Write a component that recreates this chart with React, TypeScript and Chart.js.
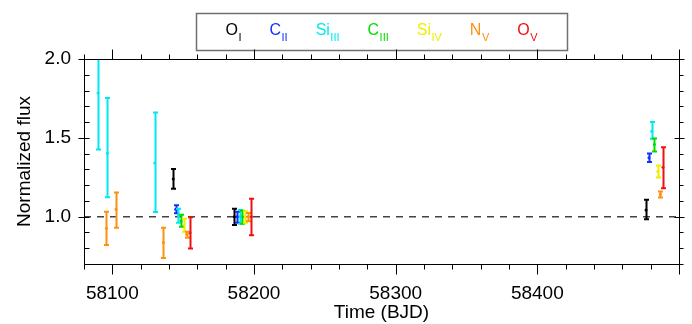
import { useEffect, useRef } from 'react';
import { Chart, registerables } from 'chart.js';

Chart.register(...registerables);

// Ion labels (element + ionisation stage) and colours
const ionElements = ['O', 'C', 'Si', 'C', 'Si', 'N', 'O'];
const ionStages = ['I', 'II', 'III', 'III', 'IV', 'V', 'V'];
const ionColors = ['#000000', '#1030ff', '#00e8f0', '#00dd00', '#eeee00', '#ff9010', '#f01010'];

// Observation epochs (BJD - 2400000), normalized flux, and error-bar bounds per ion
const oITime = [58143.0, 58186.1, 58476.7];
const oIFlux = [1.239, 1.0, 1.043];
const oILow = [1.177, 0.947, 0.983];
const oIHigh = [1.302, 1.051, 1.108];

const cIITime = [58144.7, 58188.0, 58478.8];
const cIIFlux = [1.047, 1.0, 1.373];
const cIILow = [1.022, 0.962, 1.347];
const cIIHigh = [1.073, 1.032, 1.4];

const siIIITime = [58089.9, 58096.5, 58129.9, 58146.6, 58189.9, 58480.7];
const siIIIFlux = [1.785, 1.402, 1.341, 1.006, 1.0, 1.542];
const siIIILow = [1.426, 1.124, 1.03, 0.962, 0.955, 1.494];
const siIIIHigh = [2.145, 1.753, 1.66, 1.051, 1.043, 1.6];

const cIIITime = [58148.5, 58191.7, 58482.6];
const cIIIFlux = [0.974, 1.0, 1.458];
const cIIILow = [0.936, 0.955, 1.413];
const cIIIHigh = [1.013, 1.038, 1.496];

const siIVTime = [58150.6, 58193.4, 58485.0];
const siIVFlux = [0.943, 1.0, 1.287];
const siIVLow = [0.904, 0.962, 1.249];
const siIVHigh = [0.987, 1.034, 1.325];

const nVTime = [58095.8, 58102.6, 58136.0, 58152.4, 58196.0, 58486.8];
const nVFlux = [0.926, 1.047, 0.837, 0.888, 1.0, 1.14];
const nVLow = [0.821, 0.93, 0.738, 0.866, 0.971, 1.121];
const nVHigh = [1.032, 1.153, 0.93, 0.904, 1.024, 1.16];

const oVTime = [58154.8, 58198.1, 58488.7];
const oVFlux = [0.898, 1.0, 1.313];
const oVLow = [0.798, 0.883, 1.181];
const oVHigh = [0.996, 1.113, 1.44];

// Axes
const xMin = 58080;
const xMax = 58500;
const yMin = 0.7;
const yMax = 2.0;
const xTickValues = [58100, 58200, 58300, 58400];
const yTickValues = [1.0, 1.5, 2.0];
const referenceFlux = 1.0;

const FONT_FAMILY = '"Liberation Sans", Arial, Helvetica, sans-serif';

type ErrPoint = { x: number; y: number; lo: number; hi: number };

function seriesPoints(t: number[], f: number[], lo: number[], hi: number[]): ErrPoint[] {
  return t.map((x, i) => ({ x, y: f[i], lo: lo[i], hi: hi[i] }));
}

const ionSeries = [
  seriesPoints(oITime, oIFlux, oILow, oIHigh),
  seriesPoints(cIITime, cIIFlux, cIILow, cIIHigh),
  seriesPoints(siIIITime, siIIIFlux, siIIILow, siIIIHigh),
  seriesPoints(cIIITime, cIIIFlux, cIIILow, cIIIHigh),
  seriesPoints(siIVTime, siIVFlux, siIVLow, siIVHigh),
  seriesPoints(nVTime, nVFlux, nVLow, nVHigh),
  seriesPoints(oVTime, oVFlux, oVLow, oVHigh),
];

// Vertical error bars with caps, clipped to the plot area
const errorBarPlugin = {
  id: 'errorBars',
  afterDatasetsDraw(chart: any) {
    const { ctx, chartArea, scales } = chart;
    const xs = scales.x;
    const ys = scales.y;
    ctx.save();
    ctx.beginPath();
    ctx.rect(chartArea.left, chartArea.top, chartArea.right - chartArea.left, chartArea.bottom - chartArea.top);
    ctx.clip();
    chart.data.datasets.forEach((ds: any) => {
      if (!ds.errorBars) return;
      ctx.strokeStyle = ds.borderColor;
      ctx.lineWidth = 2;
      ds.data.forEach((p: ErrPoint) => {
        const px = Math.round(xs.getPixelForValue(p.x)) + 0.5;
        const pLo = ys.getPixelForValue(p.lo);
        const pHi = ys.getPixelForValue(p.hi);
        const cap = 2.5;
        ctx.beginPath();
        ctx.moveTo(px, pLo);
        ctx.lineTo(px, pHi);
        ctx.moveTo(px - cap, pLo);
        ctx.lineTo(px + cap, pLo);
        ctx.moveTo(px - cap, pHi);
        ctx.lineTo(px + cap, pHi);
        ctx.stroke();
      });
    });
    ctx.restore();
  },
};

// Box frame with major/minor tick marks on all four sides
const framePlugin = {
  id: 'frameTicks',
  afterDraw(chart: any) {
    const { ctx, chartArea, scales } = chart;
    const xs = scales.x;
    const ys = scales.y;
    const L = chartArea.left + 0.5;
    const R = chartArea.right + 0.5;
    const T = chartArea.top + 0.5;
    const B = chartArea.bottom + 0.5;
    ctx.save();
    ctx.strokeStyle = '#000';
    ctx.lineWidth = 1;
    ctx.beginPath();
    ctx.rect(L, T, R - L, B - T);
    ctx.stroke();

    ctx.beginPath();
    for (let v = xMin; v <= xMax; v += 20) {
      const px = Math.round(xs.getPixelForValue(v)) + 0.5;
      const len = v % 100 === 0 ? 10 : 5;
      ctx.moveTo(px, B);
      ctx.lineTo(px, B + len);
      ctx.moveTo(px, T);
      ctx.lineTo(px, T - len);
    }
    for (let k = Math.round(yMin * 10); k <= Math.round(yMax * 10); k++) {
      const py = Math.round(ys.getPixelForValue(k / 10)) + 0.5;
      const major = k % 5 === 0;
      if (major) {
        ctx.moveTo(L - 6, py);
        ctx.lineTo(L + 5, py);
        ctx.moveTo(R - 5, py);
        ctx.lineTo(R + 5, py);
      } else {
        ctx.moveTo(L, py);
        ctx.lineTo(L + 5, py);
        ctx.moveTo(R, py);
        ctx.lineTo(R + 4, py);
      }
    }
    ctx.stroke();
    ctx.restore();
  },
};

// Boxed legend with subscripted ionisation stages
const legendPlugin = {
  id: 'ionLegend',
  afterDraw(chart: any) {
    const { ctx, chartArea } = chart;
    const boxW = 371;
    const boxH = 37;
    const cx = (chartArea.left + chartArea.right) / 2;
    const bx = Math.round(cx - boxW / 2) + 0.5;
    const by = 13.5;
    ctx.save();
    ctx.fillStyle = '#fff';
    ctx.fillRect(bx, by, boxW, boxH);
    ctx.strokeStyle = '#707070';
    ctx.lineWidth = 1.5;
    ctx.strokeRect(bx, by, boxW, boxH);

    const mainFont = `16px ${FONT_FAMILY}`;
    const subFont = `11px ${FONT_FAMILY}`;
    const gap = 28;
    const widths = ionElements.map((el, i) => {
      ctx.font = mainFont;
      const a = ctx.measureText(el).width;
      ctx.font = subFont;
      const b = ctx.measureText(ionStages[i]).width;
      return { a, b };
    });
    const total = widths.reduce((s, w) => s + w.a + 0.5 + w.b, 0) + gap * (ionElements.length - 1);
    let x = cx - total / 2;
    ctx.textBaseline = 'alphabetic';
    ctx.textAlign = 'left';
    ionElements.forEach((el, i) => {
      ctx.fillStyle = ionColors[i];
      ctx.font = mainFont;
      ctx.fillText(el, x, 35);
      ctx.font = subFont;
      ctx.fillText(ionStages[i], x + widths[i].a + 0.5, 40.5);
      x += widths[i].a + 0.5 + widths[i].b + gap;
    });
    ctx.restore();
  },
};

export default function App() {
  const canvasRef = useRef<HTMLCanvasElement | null>(null);

  useEffect(() => {
    const canvas = canvasRef.current;
    if (!canvas) return;
    const tickFont = { family: FONT_FAMILY, size: 19 };

    const datasets: any[] = ionSeries.map((pts, i) => ({
      type: 'scatter',
      label: ionElements[i] + ' ' + ionStages[i],
      data: pts,
      errorBars: true,
      borderColor: ionColors[i],
      backgroundColor: ionColors[i],
      pointRadius: 1.5,
      pointBorderWidth: 0,
      order: 1,
    }));
    datasets.push({
      type: 'line',
      label: 'reference',
      data: [
        { x: xMin, y: referenceFlux },
        { x: xMax, y: referenceFlux },
      ],
      borderColor: '#444',
      borderWidth: 1.5,
      borderDash: [7, 6],
      pointRadius: 0,
      fill: false,
      order: 5,
    });

    const chart = new Chart(canvas, {
      type: 'scatter',
      data: { datasets },
      options: {
        responsive: false,
        animation: false,
        layout: { padding: { top: 59, right: 13, left: 0, bottom: 0 } },
        plugins: {
          legend: { display: false },
          tooltip: { enabled: false },
        },
        scales: {
          x: {
            type: 'linear',
            min: xMin,
            max: xMax,
            grid: { display: false, drawTicks: false },
            border: { display: false },
            ticks: {
              font: tickFont,
              color: '#000',
              padding: 18,
              maxRotation: 0,
              autoSkip: false,
              callback: (v: any) => String(v),
            },
            afterBuildTicks: (s: any) => {
              s.ticks = xTickValues.map((v) => ({ value: v }));
            },
            afterFit: (s: any) => {
              s.height = 60;
            },
            title: {
              display: true,
              text: 'Time (BJD)',
              font: tickFont,
              color: '#000',
              padding: { top: 0, bottom: 0 },
            },
          },
          y: {
            type: 'linear',
            min: yMin,
            max: yMax,
            grid: { display: false, drawTicks: false },
            border: { display: false },
            ticks: {
              font: tickFont,
              color: '#000',
              padding: 13,
              autoSkip: false,
              callback: (v: any) => Number(v).toFixed(1),
            },
            afterBuildTicks: (s: any) => {
              s.ticks = yTickValues.map((v) => ({ value: v }));
            },
            afterFit: (s: any) => {
              s.width = 84;
            },
            title: {
              display: true,
              text: 'Normalized flux',
              font: tickFont,
              color: '#000',
              padding: { top: 13, bottom: 0 },
            },
          },
        },
      } as any,
      plugins: [errorBarPlugin, legendPlugin, framePlugin],
    });

    return () => chart.destroy();
  }, []);

  return (
    <div style={{ position: 'fixed', left: 0, top: 0, width: 692, height: 324, background: '#fff' }}>
      <canvas ref={canvasRef} width={692} height={324} style={{ display: 'block', width: 692, height: 324 }} />
    </div>
  );
}
